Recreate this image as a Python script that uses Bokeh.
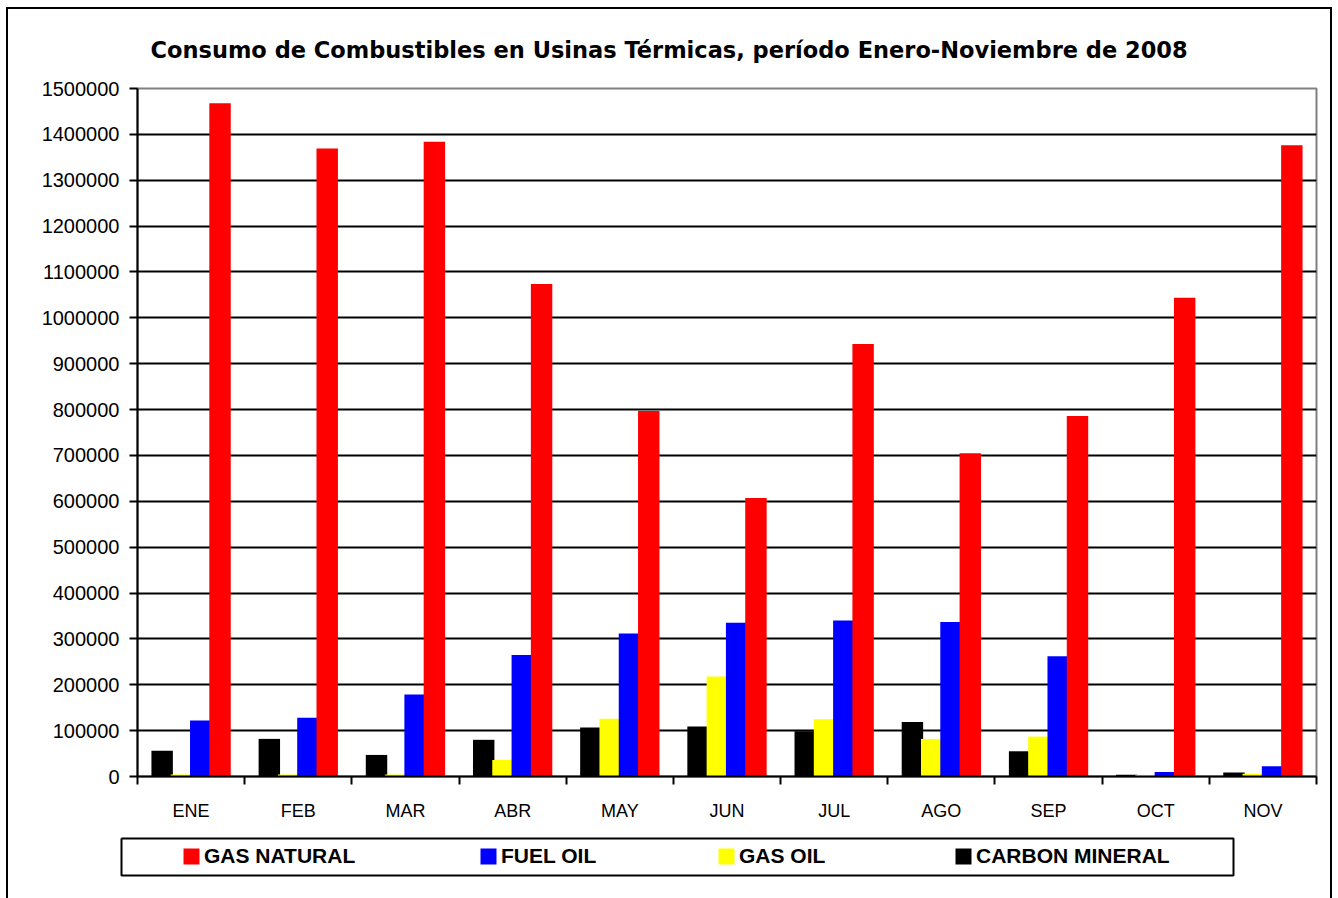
from bokeh.plotting import figure
from bokeh.layouts import column
from bokeh.models import (Range1d, FixedTicker, Legend, LegendItem,
                          ColumnDataSource, NumeralTickFormatter)
from bokeh.transform import dodge
from bokeh.embed import file_html
from bokeh.resources import INLINE

months = ["ENE", "FEB", "MAR", "ABR", "MAY", "JUN", "JUL", "AGO", "SEP", "OCT", "NOV"]
gas_natural = [1468000, 1369000, 1384000, 1074000, 797000, 607000, 943000, 705000, 786000, 1044000, 1376000]
fuel_oil = [122000, 128000, 179000, 265000, 312000, 335000, 340000, 337000, 262000, 10000, 22500]
gas_oil = [4500, 4500, 4500, 36000, 126000, 218000, 125000, 82000, 87000, 3000, 6000]
carbon_mineral = [56000, 82000, 47000, 80000, 107000, 109000, 98500, 119000, 55000, 4000, 8700]
y_ticks = list(range(0, 1500001, 100000))
series_labels = ["GAS NATURAL", "FUEL OIL", "GAS OIL", "CARBON MINERAL"]
series_fields = ["gn", "fo", "go", "cm"]
series_colors = ["#FF0000", "#0000FF", "#FFFF00", "#000000"]
series_offsets = [0.27, 0.09, -0.09, -0.27]

title_text = "Consumo de Combustibles en Usinas Térmicas, período Enero-Noviembre de 2008"

src = ColumnDataSource(dict(
    x=[i + 0.5 for i in range(len(months))],
    gn=gas_natural, fo=fuel_oil, go=gas_oil, cm=carbon_mineral,
))

W = 1322
H1, H2 = 821, 68

p = figure(width=W, height=H1, output_backend="svg", toolbar_location=None,
           x_range=Range1d(0, len(months)), y_range=Range1d(0, 1500000),
           min_border_left=129, min_border_right=14, min_border_top=79, min_border_bottom=54,
           background_fill_color="white", border_fill_color="white", frame_align=False)

p.title.text = title_text
p.title.text_font = "DejaVu Sans"
p.title.text_font_style = "bold"
p.title.text_font_size = "22.5px"
p.title.text_color = "black"
p.title.align = "left"
p.title.offset = 13
p.title.standoff = 51

p.outline_line_color = "#808080"
p.outline_line_width = 2

# draw order: carbon, gas oil, fuel oil, gas natural (red on top)
for fld, col, off in reversed(list(zip(series_fields, series_colors, series_offsets))):
    p.vbar(x=dodge("x", off), top=fld, width=0.2, source=src, fill_color=col, line_color=None)

# y axis
p.yaxis.ticker = FixedTicker(ticks=y_ticks)
p.yaxis.formatter = NumeralTickFormatter(format="0")
p.yaxis.axis_line_width = 2
p.yaxis.axis_line_color = "black"
p.yaxis.major_tick_line_width = 2
p.yaxis.major_tick_in = 0
p.yaxis.major_tick_out = 8
p.yaxis.minor_tick_line_color = None
p.yaxis.major_label_standoff = 10
p.yaxis.major_label_text_font = "Liberation Sans"
p.yaxis.major_label_text_font_size = "20px"
p.yaxis.major_label_text_color = "black"

# x axis: labels at category centres, ticks at category boundaries
p.xaxis.ticker = FixedTicker(ticks=[i + 0.5 for i in range(len(months))],
                             minor_ticks=list(range(len(months) + 1)))
p.xaxis.major_label_overrides = {i + 0.5: m for i, m in enumerate(months)}
p.xaxis.axis_line_width = 2
p.xaxis.axis_line_color = "black"
p.xaxis.major_tick_line_color = None
p.xaxis.major_tick_in = 0
p.xaxis.major_tick_out = 0
p.xaxis.minor_tick_in = 0
p.xaxis.minor_tick_out = 8
p.xaxis.minor_tick_line_width = 2
p.xaxis.minor_tick_line_color = "black"
p.xaxis.major_label_standoff = 16
p.xaxis.major_label_text_font = "Liberation Sans"
p.xaxis.major_label_text_font_size = "18px"
p.xaxis.major_label_text_color = "black"

p.xgrid.grid_line_color = None
p.ygrid.ticker = FixedTicker(ticks=y_ticks[1:-1])
p.ygrid.grid_line_color = "black"
p.ygrid.grid_line_width = 2

# legend strip: its frame is the legend box; the same bars are drawn there but
# fall outside its ranges, so only the legend entries show
pl = figure(width=W, height=H2, output_backend="svg", toolbar_location=None,
            x_range=Range1d(100, 101), y_range=Range1d(-2, -1),
            x_axis_type=None, y_axis_type=None,
            min_border_left=113, min_border_right=97, min_border_top=8, min_border_bottom=23,
            background_fill_color="white", border_fill_color="white", frame_align=False)
pl.outline_line_color = "black"
pl.outline_line_width = 2
pl.grid.visible = False

legend_x = [60, 357, 595, 832]
for lbl, fld, col, off, xo in zip(series_labels, series_fields, series_colors, series_offsets, legend_x):
    r = pl.vbar(x=dodge("x", off), top=fld, width=0.2, source=src, fill_color=col, line_color=None)
    lg = Legend(items=[LegendItem(label=lbl, renderers=[r])], location=(xo, 7),
                orientation="horizontal", border_line_alpha=0, background_fill_alpha=0,
                padding=0, margin=0, glyph_width=20, glyph_height=20, label_height=20,
                label_standoff=3, label_text_font="Liberation Sans",
                label_text_font_style="bold", label_text_font_size="21px",
                label_text_color="black")
    pl.add_layout(lg, "center")

layout = column(p, pl, spacing=0, styles={
    "margin-left": "6px", "margin-top": "7px",
    "border-left": "2px solid black", "border-top": "2px solid black",
    "border-right": "2px solid black",
})

open("out.html", "w").write(file_html(layout, INLINE))
